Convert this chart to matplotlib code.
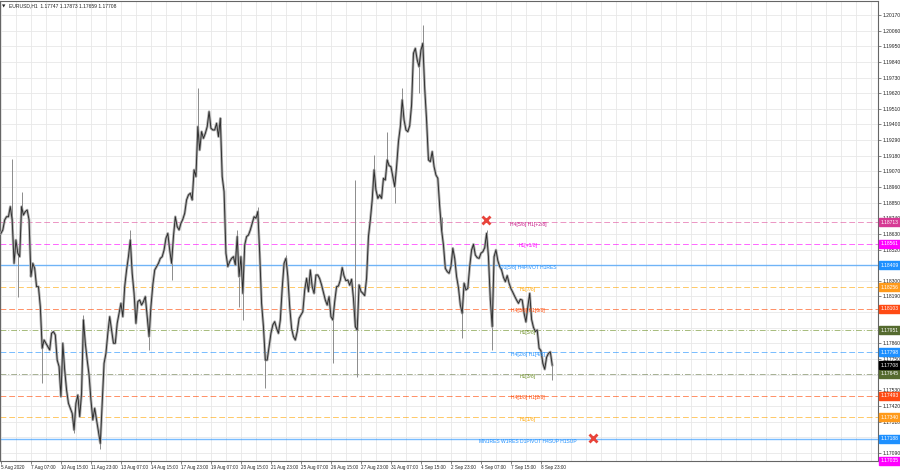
import matplotlib
matplotlib.use("Agg")
import matplotlib.pyplot as plt
import matplotlib.transforms as mtransforms

plt.rcParams["font.family"] = ["Liberation Sans", "DejaVu Sans"]

title = "EURUSD,H1  1.17747 1.17873 1.17659 1.17708"

# close of every second H1 bar, first point = 5 Aug 2020 23:00
hours_per_point = 2
closes = [
    1.18634, 1.18658, 1.18728, 1.18751, 1.18751, 1.18822, 1.18728, 1.18423, 1.18587, 1.18494,
    1.18470, 1.18822, 1.18763, 1.18787, 1.18798, 1.18728, 1.18330, 1.18423, 1.18388, 1.18259,
    1.18259, 1.18119, 1.17826, 1.17884, 1.17861, 1.17837, 1.17814, 1.17931, 1.17943, 1.17919,
    1.17743, 1.17697, 1.17486, 1.17861, 1.17673, 1.17533, 1.17439, 1.17404, 1.17368, 1.17251,
    1.17439, 1.17497, 1.17345, 1.17509, 1.18025, 1.17861, 1.17743, 1.17638, 1.17462, 1.17322,
    1.17404, 1.17322, 1.17240, 1.17157, 1.17439, 1.17720, 1.17790, 1.17931, 1.18048, 1.17954,
    1.17861, 1.17861, 1.18001, 1.18072, 1.18142, 1.18048, 1.18259, 1.18376, 1.18470, 1.18587,
    1.18353, 1.18212, 1.18001, 1.18154, 1.18165, 1.18130, 1.18154, 1.18189, 1.18048, 1.17908,
    1.18119, 1.18271, 1.18376, 1.18400, 1.18423, 1.18458, 1.18470, 1.18517, 1.18599, 1.18634,
    1.18517, 1.18423, 1.18611, 1.18751, 1.18681, 1.18658, 1.18705, 1.18733, 1.18775, 1.18869,
    1.18904, 1.18916, 1.18869, 1.19080, 1.19033, 1.19384, 1.19220, 1.19349, 1.19302, 1.19337,
    1.19384, 1.19490, 1.19373, 1.19361, 1.19361, 1.19408, 1.19314, 1.19443, 1.19033, 1.18927,
    1.18494, 1.18400, 1.18435, 1.18458, 1.18470, 1.18412, 1.18611, 1.18330, 1.18470, 1.18212,
    1.18552, 1.18611, 1.18622, 1.18658, 1.18705, 1.18751, 1.18740, 1.18787, 1.18494, 1.18142,
    1.17978, 1.17743, 1.17743, 1.17837, 1.17931, 1.17990, 1.18013, 1.17966, 1.17931, 1.18025,
    1.18247, 1.18423, 1.18458, 1.18330, 1.18119, 1.17966, 1.17908, 1.17884, 1.17943, 1.18036,
    1.18060, 1.18083, 1.18236, 1.18318, 1.18224, 1.18376, 1.18259, 1.18212, 1.18341, 1.18341,
    1.18315, 1.18271, 1.18217, 1.18165, 1.18130, 1.18189, 1.18048, 1.18025, 1.18154, 1.18259,
    1.18264, 1.18306, 1.18393, 1.18334, 1.18301, 1.18306, 1.18269, 1.18311, 1.18177, 1.17978,
    1.17954, 1.18271, 1.18226, 1.18212, 1.18196, 1.18318, 1.18611, 1.18728, 1.18869, 1.19080,
    1.18939, 1.18880, 1.18904, 1.18880, 1.19021, 1.19009, 1.19150, 1.19110, 1.19103, 1.19033,
    1.18962, 1.19103, 1.19279, 1.19384, 1.19572, 1.19431, 1.19361, 1.19349, 1.19391, 1.19537,
    1.19900, 1.19935, 1.19853, 1.19806, 1.19923, 1.19970, 1.19654, 1.19431, 1.19150, 1.19138,
    1.19209, 1.19103, 1.19044, 1.19021, 1.18822, 1.18658, 1.18552, 1.18388, 1.18365, 1.18353,
    1.18400, 1.18529, 1.18458, 1.18330, 1.18252, 1.18130, 1.18072, 1.18283, 1.18236, 1.18247,
    1.18400, 1.18517, 1.18557, 1.18482, 1.18463, 1.18458, 1.18494, 1.18505, 1.18533, 1.18634,
    1.18470, 1.18165, 1.17978, 1.18470, 1.18517, 1.18442, 1.18400, 1.18376, 1.18325, 1.18294,
    1.18337, 1.18283, 1.18245, 1.18219, 1.18191, 1.18165, 1.18142, 1.18170, 1.18165, 1.18072,
    1.18011, 1.18119, 1.18212, 1.18029, 1.17973, 1.17943, 1.17954, 1.17826, 1.17809, 1.17720,
    1.17678, 1.17762, 1.17790, 1.17800, 1.17708,
]

# long wicks: index into closes and the extreme price
spike_points = [6, 9, 11, 22, 39, 44, 53, 69, 79, 91, 105, 126, 127, 129, 137, 141,
                152, 177, 189, 190, 199, 206, 210, 214, 223, 225, 235, 246, 259, 262, 294]
spike_prices = [1.19155, 1.18189, 1.18927, 1.17579, 1.17228, 1.18060, 1.17115, 1.18658,
                1.17814, 1.18306, 1.19654, 1.18658, 1.18119, 1.18025, 1.18822, 1.17544,
                1.18482, 1.17720, 1.19009, 1.17626, 1.19185, 1.19349, 1.18845, 1.19654,
                1.19619, 1.20099, 1.18751, 1.17896, 1.18658, 1.17814, 1.17603]

level_prices = [1.18713, 1.18561, 1.18409, 1.18256, 1.18103, 1.17951, 1.17798,
                1.17645, 1.17493, 1.17340, 1.17188, 1.17035]
level_names = ["H4[5/8] H1[+2/8]", "H1[+1/8]", "D1[5/8] H4PIVOT H1RES", "H1[7/8]",
               "H4[3/8] H1[6/8]", "H1[5/8]", "H4[2/8] H1[4/8]", "H1[3/8]",
               "H4[1/8] H1[2/8]", "H1[1/8]", "MN1RES W1RES D1PIVOT H4SUP H1SUP", ""]
level_colors = ["#e0509c", "#ff00ff", "#1e90ff", "#ffa500", "#ff4500", "#6b8e23",
                "#1e90ff", "#6b7b4b", "#ff4500", "#ffa500", "#1e90ff", "#ff00ff"]
text_colors = ["#c71585", "#ff00ff", "#1e90ff", "#ffa500", "#ff4500", "#6b8e23",
               "#1e90ff", "#6b8e23", "#ff4500", "#ffa500", "#1e90ff", "#ff00ff"]
box_colors = ["#d63a94", "#ff00ff", "#1e90ff", "#ff9a1a", "#ff4a14", "#556b2f",
              "#1e90ff", "#556b2f", "#ff4a14", "#ff9a1a", "#1e90ff", "#ff00ff"]
level_styles = ["dash", "dash", "solid", "dash", "dash", "dashdot",
                "dash", "dashdot", "dash", "dash", "solid", "dash"]
label_bar = 562

price_ticks = [1.17090, 1.17200, 1.17310, 1.17420, 1.17530, 1.17640, 1.17750, 1.17860,
               1.17970, 1.18080, 1.18190, 1.18300, 1.18410, 1.18520, 1.18630, 1.18740,
               1.18850, 1.18960, 1.19070, 1.19180, 1.19290, 1.19400, 1.19510, 1.19620,
               1.19730, 1.19840, 1.19950, 1.20060, 1.20170]
hidden_ticks = [1.17640, 1.18080, 1.18410]

time_labels = ["5 Aug 2020", "7 Aug 07:00", "10 Aug 15:00", "11 Aug 23:00", "13 Aug 07:00",
               "14 Aug 15:00", "17 Aug 23:00", "19 Aug 07:00", "20 Aug 15:00", "21 Aug 23:00",
               "25 Aug 07:00", "26 Aug 15:00", "27 Aug 23:00", "31 Aug 07:00", "1 Sep 15:00",
               "2 Sep 23:00", "4 Sep 07:00", "7 Sep 15:00", "8 Sep 23:00"]
bars_per_label = 32

cross_bars = [517, 631]
cross_prices = [1.18728, 1.17195]
last_price = 1.17708

FS_Y = 3.6
FS_X = 3.3

fig = plt.figure(figsize=(9, 4.7), dpi=100)
ax = fig.add_axes([0, 9 / 470, 878 / 900, 460 / 470])
ax.set_xlim(-1, 935.5)
ax.set_ylim(1.17033, 1.20268)

# grid
ax.set_xticks(range(0, 936, 16), minor=True)
ax.grid(which="both", axis="x", color="#e8e8e8", lw=0.6)
ax.grid(which="major", axis="y", color="#e8e8e8", lw=0.6)
ax.set_axisbelow(True)

# levels
dash_map = {"dash": (0, (6, 3)), "solid": "-", "dashdot": (0, (6, 2, 1, 2))}
blend = mtransforms.blended_transform_factory(ax.transAxes, ax.transData)


def price_box(p, fc):
    ax.annotate("%.5f" % p, (1.0, p), xycoords=blend, xytext=(1.6, 0),
                textcoords="offset points", ha="left", va="center",
                fontsize=FS_Y, color="white", annotation_clip=False, zorder=7,
                bbox=dict(boxstyle="square,pad=0.3", fc=fc, ec=fc))


for p, name, c, tc, bc, st in zip(level_prices, level_names, level_colors,
                                  text_colors, box_colors, level_styles):
    lw = 1.0 if st == "solid" else 0.7
    ax.axhline(p, color=c, lw=lw, ls=dash_map[st], alpha=0.6, zorder=2)
    if name:
        ax.annotate(name, (label_bar, p), xytext=(0, -1.5), textcoords="offset points",
                    ha="center", va="center", fontsize=FS_Y, color=tc, zorder=6)
    price_box(p, bc)

price_box(last_price, "black")

# price bars
xs = [i * hours_per_point for i in range(len(closes))]
ax.plot(xs, closes, color="#ababab", lw=1.9, zorder=3)
ax.vlines([xs[i] for i in spike_points], [closes[i] for i in spike_points], spike_prices,
          color="#8c8c8c", lw=0.7, zorder=3)
ax.plot(xs, closes, color="#2a2a2a", lw=0.65, zorder=4)

ax.plot(cross_bars, cross_prices, ls="none", marker="x", ms=6, mew=2,
        color="#e8443a", zorder=8)

# axes
ax.yaxis.tick_right()
ax.set_yticks(price_ticks)
ax.set_yticklabels(["" if t in hidden_ticks else "%.5f" % t for t in price_ticks])
ax.set_xticks([j * bars_per_label for j in range(len(time_labels))])
ax.set_xticklabels(time_labels)
for lbl in ax.get_xticklabels():
    lbl.set_horizontalalignment("left")
ax.tick_params(axis="y", labelsize=FS_Y, length=2, width=0.5, color="#555555",
               labelcolor="#222222", pad=1.2)
ax.tick_params(axis="x", labelsize=FS_X, length=2, width=0.5, color="#555555",
               labelcolor="#222222", pad=1.2)
ax.tick_params(axis="x", which="minor", length=0)
for s in ax.spines.values():
    s.set_color("#666666")
    s.set_linewidth(0.8)

fig.text(2 / 900, 1 - 6 / 470, "\u25bc", fontsize=3.2, va="center", color="#222222",
         family="DejaVu Sans")
fig.text(9 / 900, 1 - 6 / 470, title, fontsize=FS_Y, va="center", color="#222222")

fig.savefig("out.png", dpi=100, facecolor="white")
